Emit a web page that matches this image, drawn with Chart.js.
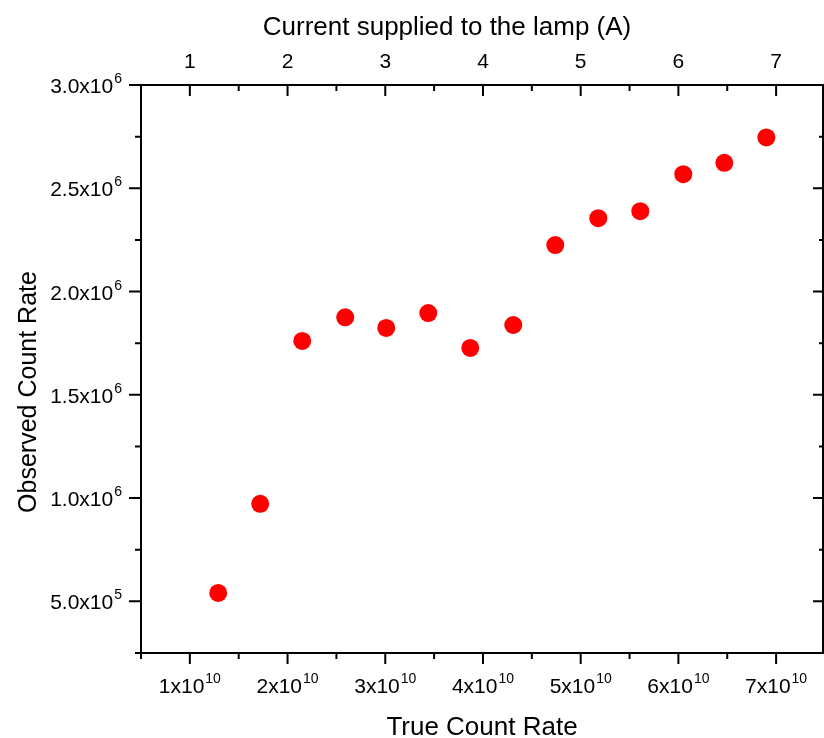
<!DOCTYPE html>
<html>
<head>
<meta charset="utf-8">
<script src="https://cdn.jsdelivr.net/npm/chart.js@4/dist/chart.umd.min.js"></script>
<style>
  html, body { margin: 0; padding: 0; background: #fff; }
  #wrap { width: 824px; height: 738px; }
</style>
</head>
<body>
<div id="wrap"><canvas id="graficoPuntos"></canvas></div>
<script>
// values
const trueRate = [1.29e10, 1.72e10, 2.15e10, 2.59e10, 3.01e10, 3.44e10, 3.87e10, 4.31e10, 4.74e10, 5.18e10, 5.61e10, 6.05e10, 6.47e10, 6.90e10];
const observedRate = [5.41e5, 9.72e5, 1.761e6, 1.875e6, 1.824e6, 1.896e6, 1.727e6, 1.838e6, 2.225e6, 2.355e6, 2.389e6, 2.568e6, 2.623e6, 2.746e6];

// ticks
const bottomMajor = [1e10, 2e10, 3e10, 4e10, 5e10, 6e10, 7e10];
const bottomMinor = [0.5e10, 1.5e10, 2.5e10, 3.5e10, 4.5e10, 5.5e10, 6.5e10];
const bottomLabels = [['1x10', '10'], ['2x10', '10'], ['3x10', '10'], ['4x10', '10'], ['5x10', '10'], ['6x10', '10'], ['7x10', '10']];
const leftMajor = [5e5, 1e6, 1.5e6, 2e6, 2.5e6, 3e6];
const leftMinor = [2.5e5, 7.5e5, 1.25e6, 1.75e6, 2.25e6, 2.75e6];
const leftLabels = [['5.0x10', '5'], ['1.0x10', '6'], ['1.5x10', '6'], ['2.0x10', '6'], ['2.5x10', '6'], ['3.0x10', '6']];
const topMajor = [1, 2, 3, 4, 5, 6, 7];
const topMinor = [0.5, 1.5, 2.5, 3.5, 4.5, 5.5, 6.5];
const topLabels = ['1', '2', '3', '4', '5', '6', '7'];

const FONT = '"Liberation Sans", Arial, sans-serif';

function supLabel(ctx, base, sup, x, y, align) {
  ctx.font = '21px ' + FONT;
  const wb = ctx.measureText(base).width;
  ctx.font = '14px ' + FONT;
  const ws = ctx.measureText(sup).width;
  const total = wb + 1 + ws;
  let x0 = x;
  if (align === 'right') x0 = x - total;
  if (align === 'center') x0 = x - total / 2;
  ctx.textAlign = 'left';
  ctx.textBaseline = 'alphabetic';
  ctx.font = '21px ' + FONT;
  ctx.fillText(base, x0, y);
  ctx.font = '14px ' + FONT;
  ctx.fillText(sup, x0 + wb + 1, y - 10);
}

const ejes = {
  id: 'ejes',
  afterDraw(chart) {
    const ctx = chart.ctx;
    const a = chart.chartArea;
    const sx = chart.scales.x, sy = chart.scales.y, sx2 = chart.scales.x2;
    ctx.save();
    ctx.strokeStyle = '#000';
    ctx.fillStyle = '#000';
    ctx.lineWidth = 2;
    ctx.strokeRect(a.left, a.top, a.right - a.left, a.bottom - a.top);

    ctx.beginPath();
    [[bottomMajor, 11], [bottomMinor, 6]].forEach(([vals, len]) => {
      vals.forEach(v => {
        const px = sx.getPixelForValue(v);
        ctx.moveTo(px, a.bottom); ctx.lineTo(px, a.bottom + len);
      });
    });
    [[topMajor, 11], [topMinor, 6]].forEach(([vals, len]) => {
      vals.forEach(v => {
        const px = sx2.getPixelForValue(v);
        ctx.moveTo(px, a.top); ctx.lineTo(px, a.top + len);
      });
    });
    [[leftMajor, 12], [leftMinor, 6]].forEach(([vals, len]) => {
      vals.forEach(v => {
        const py = sy.getPixelForValue(v);
        ctx.moveTo(a.left - len, py); ctx.lineTo(a.left, py);
        ctx.moveTo(a.right, py); ctx.lineTo(a.right - len + 2, py);
      });
    });
    ctx.stroke();

    bottomLabels.forEach((l, i) => supLabel(ctx, l[0], l[1], sx.getPixelForValue(bottomMajor[i]), a.bottom + 40, 'center'));
    leftLabels.forEach((l, i) => supLabel(ctx, l[0], l[1], a.left - 19, sy.getPixelForValue(leftMajor[i]) + 8, 'right'));
    ctx.font = '21px ' + FONT;
    ctx.textAlign = 'center';
    ctx.textBaseline = 'alphabetic';
    topLabels.forEach((l, i) => ctx.fillText(l, sx2.getPixelForValue(topMajor[i]), a.top - 17));

    ctx.font = '26px ' + FONT;
    ctx.fillText('Current supplied to the lamp (A)', 447, 35);
    ctx.fillText('True Count Rate', (a.left + a.right) / 2, 735);
    ctx.translate(36, 392);
    ctx.rotate(-Math.PI / 2);
    ctx.font = '25px ' + FONT;
    ctx.fillText('Observed Count Rate', 0, 0);
    ctx.restore();
  }
};

const hidden = { ticks: { display: false }, grid: { display: false }, border: { display: false } };

new Chart(document.getElementById('graficoPuntos').getContext('2d'), {
  type: 'scatter',
  data: {
    datasets: [{
      label: 'Observed Count Rate',
      data: trueRate.map((t, i) => ({ x: t, y: observedRate[i] })),
      backgroundColor: '#ff0000',
      borderWidth: 0,
      pointRadius: 9,
      pointHoverRadius: 9
    }]
  },
  options: {
    responsive: true,
    maintainAspectRatio: false,
    devicePixelRatio: 1,
    animation: false,
    layout: { padding: 0, autoPadding: false },
    plugins: { legend: { display: false }, tooltip: { enabled: false } },
    scales: {
      x: { type: 'linear', position: 'bottom', min: 0.5e10, max: 7.48e10, ...hidden, afterFit: s => { s.height = 85; } },
      x2: { type: 'linear', position: 'top', min: 0.5, max: 7.48, ...hidden, afterFit: s => { s.height = 85; } },
      y: { type: 'linear', position: 'left', min: 2.5e5, max: 3e6, ...hidden, afterFit: s => { s.width = 141; } },
      y2: { type: 'linear', position: 'right', min: 2.5e5, max: 3e6, ...hidden, afterFit: s => { s.width = 1; } }
    }
  },
  plugins: [ejes]
});
</script>
</body>
</html>
